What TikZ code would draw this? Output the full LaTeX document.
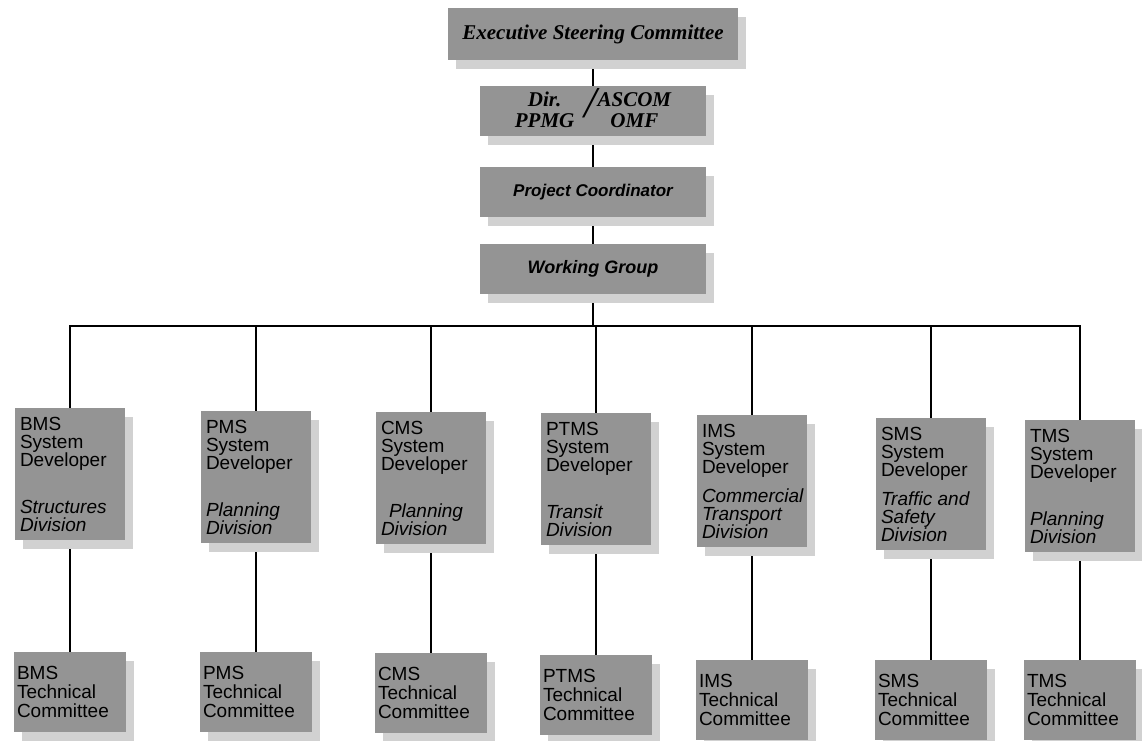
\documentclass[tikz,border=0pt]{standalone}
\usepackage{fontspec}
\setmainfont{Liberation Serif}
\setsansfont{Liberation Sans}
\usetikzlibrary{positioning,shadows,backgrounds}

\tikzset{
  box/.style={fill=black!42, inner sep=0pt,
    drop shadow={shadow xshift=8pt, shadow yshift=-9pt, fill=black!18, opacity=1}},
  topbox/.style={box, minimum width=226pt, minimum height=50pt,
    font=\fontsize{21}{21}\selectfont\bfseries\itshape},
  devbox/.style={box, anchor=north, inner xsep=5pt, inner ysep=9pt,
    font=\sffamily\fontsize{19}{18}\selectfont},
  tcbox/.style={box, anchor=north, minimum width=112pt, minimum height=80pt,
    text width=106pt, align=left, inner xsep=3pt,
    font=\sffamily\fontsize{19}{19}\selectfont},
  link/.style={line width=2.6pt}
}
\newcommand{\devtext}[1]{\parbox[t][114pt][s]{100pt}{\raggedright #1}}

\begin{document}
\begin{tikzpicture}[x=1pt,y=-1pt]
\useasboundingbox (0,0) rectangle (1142,740);

% top of the chart
\node[topbox, minimum width=290pt, minimum height=52pt,
  font=\fontsize{21}{22}\selectfont\bfseries\itshape] (exec) at (593,34) {Executive Steering Committee};
\node[topbox] (dir) at (593,111) {\begin{tabular}{@{}c@{}}Dir.\\PPMG\end{tabular}\hspace{10pt}{\fontsize{44}{44}\selectfont\mdseries/}\hspace{1pt}\begin{tabular}{@{}c@{}}ASCOM\\OMF\end{tabular}};
\node[topbox, font=\sffamily\fontsize{17}{19}\selectfont\bfseries\itshape] (pc) at (593,192) {Project Coordinator};
\node[topbox, font=\sffamily\fontsize{18}{19}\selectfont\bfseries\itshape] (wg) at (593,269) {Working Group};

% system developers
\node[devbox] (devbms) at (70,408) {\devtext{BMS\\System\\Developer\par\vfill\textit{Structures\\Division}}};
\node[devbox] (devpms) at (256,411) {\devtext{PMS\\System\\Developer\par\vfill\textit{Planning\\Division}}};
\node[devbox] (devcms) at (431,412) {\devtext{CMS\\System\\Developer\par\vfill\hspace*{8pt}\textit{Planning\\Division}}};
\node[devbox] (devptms) at (596,413) {\devtext{PTMS\\System\\Developer\par\vfill\textit{Transit\\Division}}};
\node[devbox] (devims) at (752,415) {\devtext{IMS\\System\\Developer\par\vfill\textit{Commercial\\Transport\\Division}}};
\node[devbox] (devsms) at (931,418) {\devtext{SMS\\System\\Developer\par\vfill\textit{Traffic and\\Safety\\Division}}};
\node[devbox] (devtms) at (1080,420) {\devtext{TMS\\System\\Developer\par\vfill\textit{Planning\\Division}}};

% technical committees
\node[tcbox] (tcbms) at (70,652) {BMS\\Technical\\Committee};
\node[tcbox] (tcpms) at (256,652) {PMS\\Technical\\Committee};
\node[tcbox] (tccms) at (431,653) {CMS\\Technical\\Committee};
\node[tcbox] (tcptms) at (596,655) {PTMS\\Technical\\Committee};
\node[tcbox] (tcims) at (752,660) {IMS\\Technical\\Committee};
\node[tcbox] (tcsms) at (931,660) {SMS\\Technical\\Committee};
\node[tcbox] (tctms) at (1080,660) {TMS\\Technical\\Committee};

\begin{scope}[on background layer]
\coordinate (bus) at (0,326);
\draw[link] (exec) -- (dir);
\draw[link] (dir) -- (pc);
\draw[link] (pc) -- (wg);
\draw[link] (wg) -- (wg |- bus);
\draw[link] (devbms.north) -- (devbms.north |- bus) -- (devtms.north |- bus) -- (devtms.north);
\foreach \n in {pms,cms,ptms,ims,sms}
  \draw[link] (dev\n.north) -- (dev\n.north |- bus);
\foreach \n in {bms,pms,cms,ptms,ims,sms,tms}
  \draw[link] (dev\n) -- (tc\n);
\end{scope}
\end{tikzpicture}
\end{document}
